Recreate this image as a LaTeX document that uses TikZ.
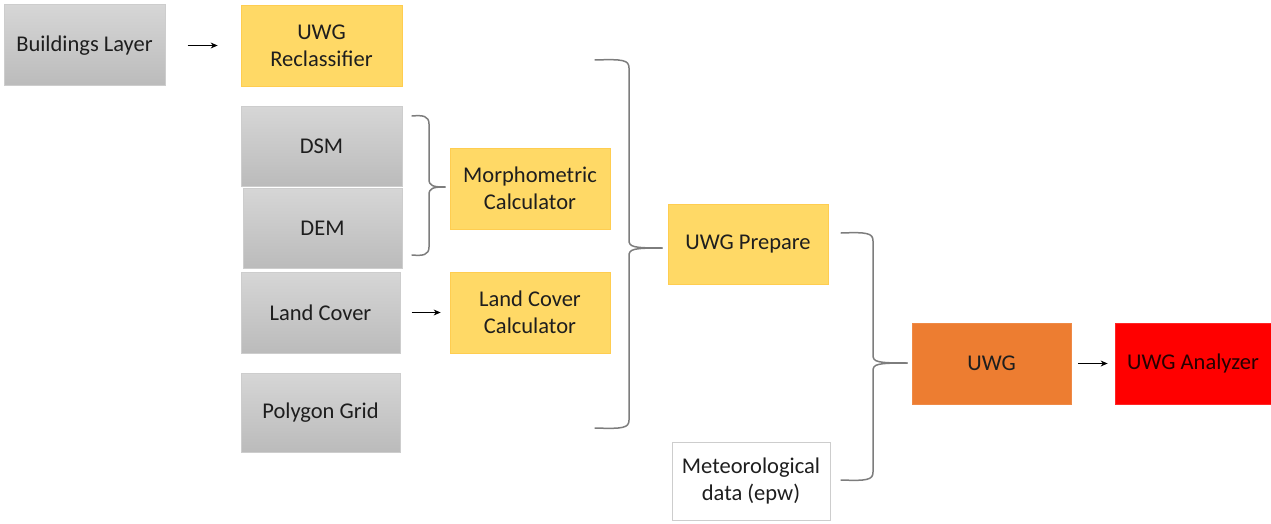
\documentclass[tikz,border=0pt]{standalone}
\usepackage{fontspec}
\setmainfont{Carlito}
\usetikzlibrary{arrows.meta}
\definecolor{ylw}{RGB}{255,217,102}
\definecolor{ylwb}{RGB}{255,205,80}
\definecolor{org}{RGB}{237,125,49}
\definecolor{rd}{RGB}{255,0,0}
\definecolor{gtop}{RGB}{214,214,214}
\definecolor{gbot}{RGB}{187,187,187}
\definecolor{gbrd}{RGB}{205,205,205}
\definecolor{brc}{RGB}{125,125,125}
\definecolor{txt}{RGB}{30,30,30}
\newcommand\mybrace[6]{%
  \draw[bracestyle] (#1,#4) .. controls ({#2-6},{#4-1}) and (#2,{#4}) .. (#2,{#4+8}) -- (#2,{#5-8})
    .. controls (#2,{#5-1}) and ({#2+4},#5) .. (#3,#5);
  \draw[bracestyle] (#3,#5) .. controls ({#2+4},#5) and (#2,{#5+1}) .. (#2,{#5+8}) -- (#2,{#6-8})
    .. controls (#2,{#6}) and ({#2-6},{#6+1}) .. (#1,#6);
}
\tikzset{
  box/.style={rectangle, align=center, inner sep=0pt, text=txt,
    font=\fontsize{22.5}{27}\selectfont},
  graybox/.style={box, top color=gtop, bottom color=gbot, draw=gbrd, line width=1pt},
  ylwbox/.style={box, fill=ylw, draw=ylwb, line width=0.8pt},
  orgbox/.style={box, fill=org, draw=org!90!white, line width=0.8pt},
  redbox/.style={box, fill=rd, draw=rd!85!white, line width=0.8pt, text=black!85!red},
  whitebox/.style={box, fill=white, draw=gbrd, line width=1pt},
  arr/.style={-{Stealth[length=7pt,width=6pt]}, line width=1pt, black},
  bracestyle/.style={draw=brc, line width=1.5pt, line cap=round}
}
\begin{document}
\begin{tikzpicture}[x=1pt,y=-1pt]
\useasboundingbox (0,0) rectangle (1271,524);
\node[graybox, minimum width=161pt, minimum height=81pt] (bl) at (84.5,45.5) {Buildings Layer};
\node[ylwbox, minimum width=161pt, minimum height=81pt] (rc) at (321.5,45.5) {UWG\\Reclassifier};
\node[graybox, minimum width=161pt, minimum height=79pt] (dsm) at (321.5,146.5) {DSM};
\node[graybox, minimum width=159pt, minimum height=80pt] (dem) at (322.5,228) {DEM};
\node[graybox, minimum width=159pt, minimum height=81pt] (lc) at (320.5,312.5) {Land Cover};
\node[graybox, minimum width=159pt, minimum height=79pt] (pg) at (320.5,412.5) {Polygon Grid};
\node[ylwbox, minimum width=160pt, minimum height=81pt] (mc) at (530,188.5) {Morphometric\\Calculator};
\node[ylwbox, minimum width=160pt, minimum height=81pt] (lcc) at (530,312.5) {Land Cover\\Calculator};
\node[ylwbox, minimum width=160pt, minimum height=80pt] (prep) at (748,244) {UWG Prepare};
\node[whitebox, minimum width=158pt, minimum height=78pt] (met) at (751,481) {Meteorological\\data (epw)};
\node[orgbox, minimum width=159pt, minimum height=81pt] (uwg) at (991.5,363.5) {UWG};
\node[redbox, minimum width=156pt, minimum height=81pt] (ana) at (1193,363.5) {UWG Analyzer};

\draw[arr, shorten <=22pt, shorten >=23pt] (bl.east) -- (rc.west);
\draw[arr, shorten <=11pt, shorten >=9pt] (lc.east) -- (lcc.west);
\draw[arr, shorten <=7pt, shorten >=7pt] (uwg.east) -- (ana.west);

\mybrace{412}{429}{445}{116}{187}{255}
\mybrace{595}{629}{662}{60}{248}{428}
\mybrace{841}{873}{907}{233}{363}{480}
\end{tikzpicture}
\end{document}
